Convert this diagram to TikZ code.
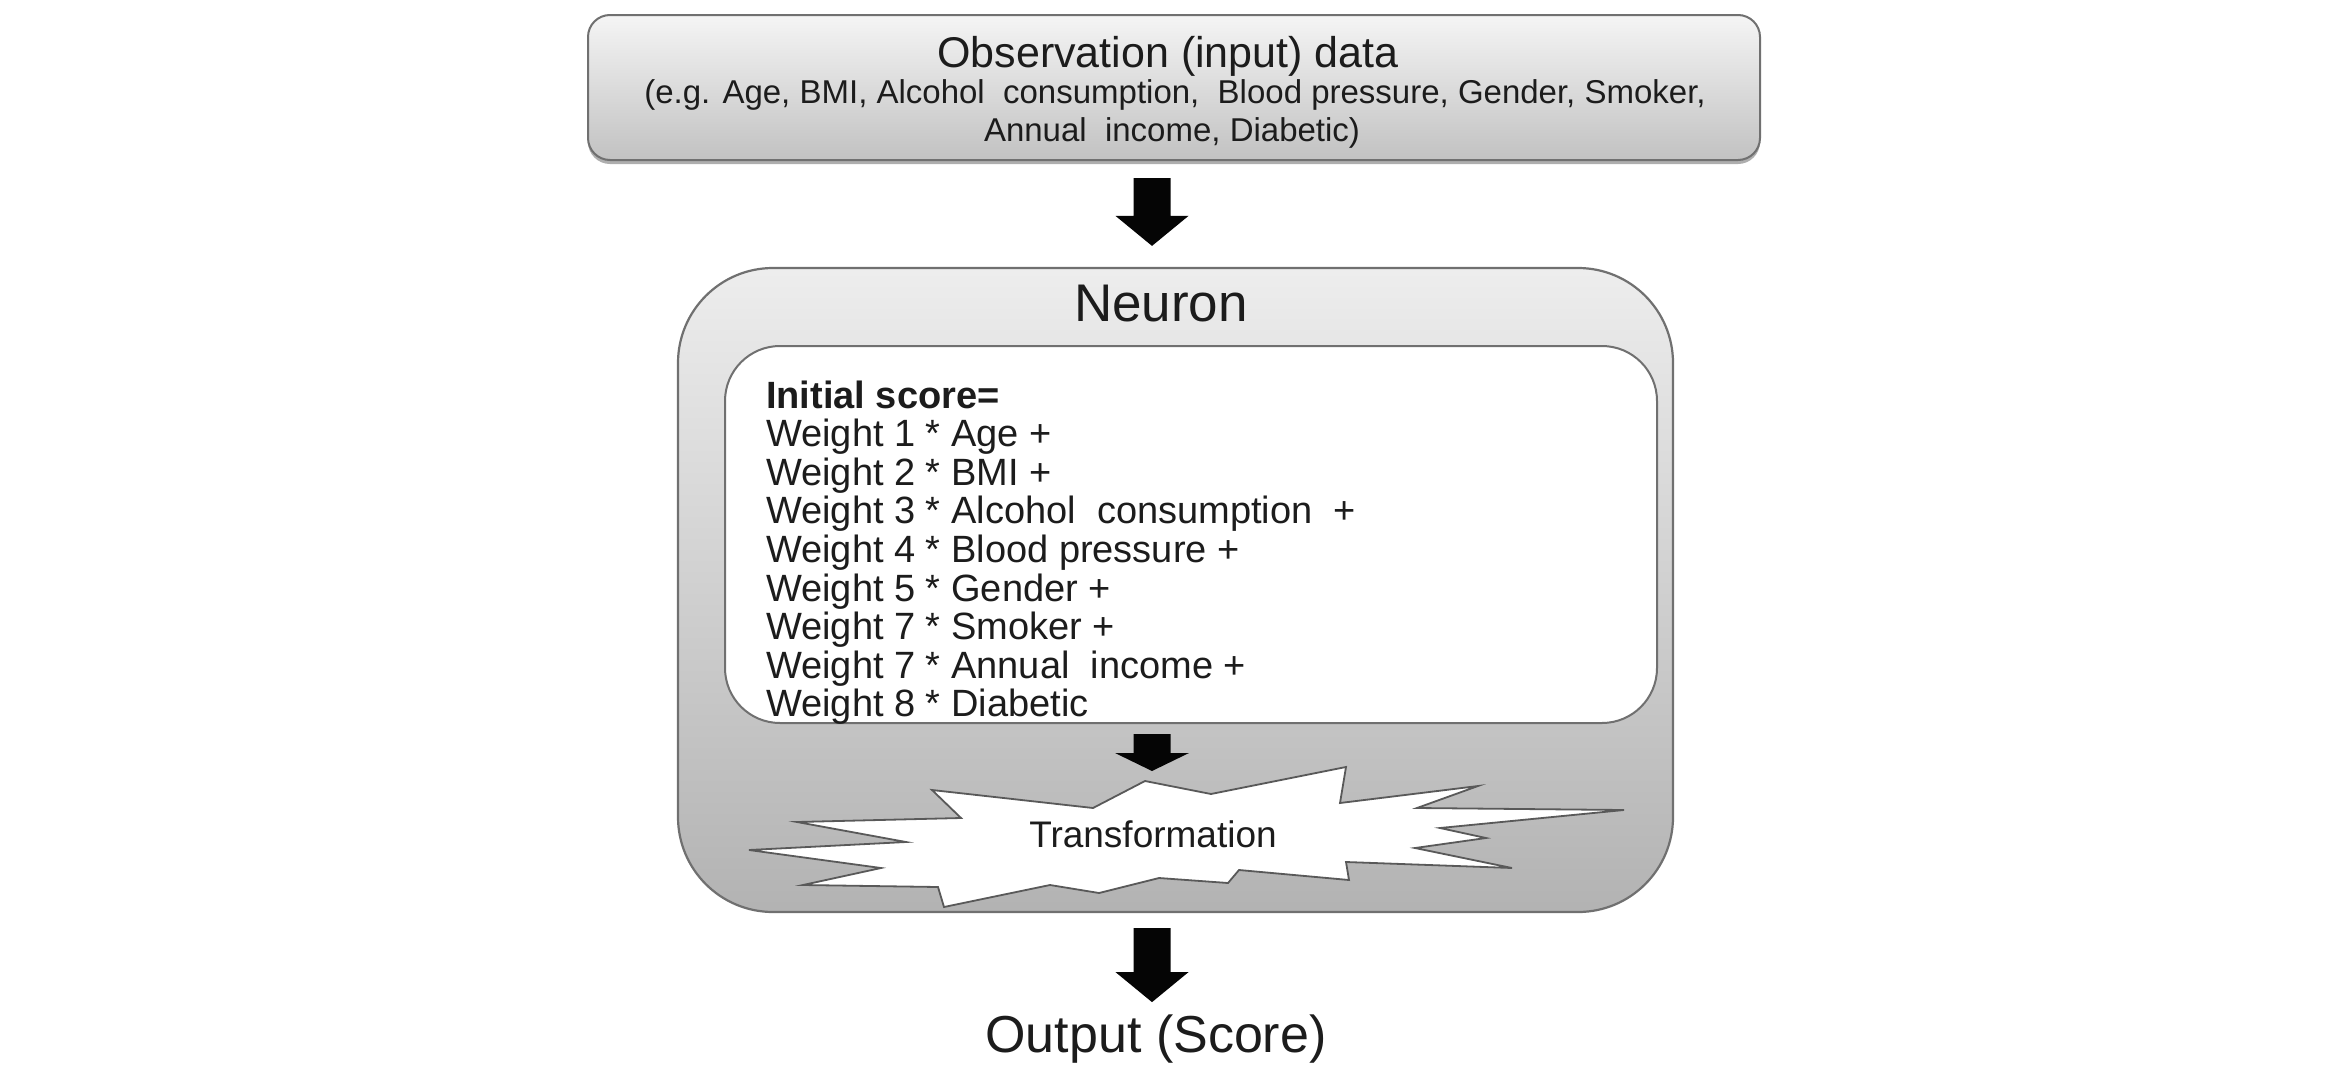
\documentclass[tikz,border=0pt]{standalone}
\usepackage{fontspec}
\setmainfont{Liberation Sans}
\usetikzlibrary{calc,shadows}
\definecolor{txt}{HTML}{1C1C1C}
\definecolor{edge}{HTML}{707070}
\definecolor{arrowcol}{HTML}{050505}
\newcommand\blockarr[5]{%
  \fill[arrowcol] let \p1=(#1), \p2=(#2) in
    (\x1-#3,\y1) -- (\x1+#3,\y1) -- (\x1+#3,\y2+#5) -- (\x1+#4,\y2+#5)
    -- (\x1,\y2) -- (\x1-#4,\y2+#5) -- (\x1-#3,\y2+#5) -- cycle;}
\tikzset{
  obsbox/.style={draw=edge, line width=2pt, rounded corners=22pt,
    top color=white!96!black, bottom color=white!76!black,
    drop shadow={shadow xshift=0pt, shadow yshift=-4pt, opacity=0.45, fill=black!70}},
  neuronbox/.style={draw=edge, line width=2.2pt, rounded corners=95pt,
    top color=white!93!black, bottom color=white!70!black},
  innerbox/.style={draw=edge, line width=2pt, rounded corners=55pt, fill=white},
  starline/.style={draw=black!65, line width=1.8pt, fill=white, line join=miter},
  label/.style={text=txt, inner sep=0pt, anchor=base},
  linetext/.style={text=txt, inner sep=0pt, anchor=base west, font=\fontsize{38}{40}\selectfont},
}
\begin{document}
\begin{tikzpicture}[x=1pt,y=-1pt]
\useasboundingbox (0,0) rectangle (2348,1074);
\fill[white] (0,0) rectangle (2348,1074);
\coordinate (ax) at (1152,0);

% top box
\node[obsbox, minimum width=1172pt, minimum height=145pt] (obs) at (1174,87.5) {};
\node[label, font=\fontsize{43}{46}\selectfont] (obstitle) at (1168,67) {Observation (input) data};
\node[label, font=\fontsize{33}{36}\selectfont] (obssub1) at (1175,103) {(e.g. Age, BMI, Alcohol\ \ consumption,\ \ Blood pressure, Gender, Smoker,};
\node[label, font=\fontsize{33}{36}\selectfont] (obssub2) at (1172,141) {Annual\ \ income, Diabetic)};

% neuron box
\node[neuronbox, minimum width=995pt, minimum height=644pt] (neuron) at (1175.5,590) {};
\node[label, font=\fontsize{53}{56}\selectfont] (neurontitle) at (1161,321) {Neuron};
\node[innerbox, minimum width=932pt, minimum height=377pt] (inner) at (1191,534.5) {};

\node[linetext, font=\fontsize{38}{40}\selectfont\bfseries] (l0) at (766,408) {Initial score=};
\node[linetext] (l1) at (766,446.6) {Weight 1 * Age +};
\node[linetext] (l2) at (766,485.2) {Weight 2 * BMI +};
\node[linetext] (l3) at (766,523.8) {Weight 3 * Alcohol\ \ consumption\ \ +};
\node[linetext] (l4) at (766,562.4) {Weight 4 * Blood pressure +};
\node[linetext] (l5) at (766,601) {Weight 5 * Gender +};
\node[linetext] (l6) at (766,639.6) {Weight 7 * Smoker +};
\node[linetext] (l7) at (766,678.2) {Weight 7 * Annual\ \ income +};
\node[linetext] (l8) at (766,716.8) {Weight 8 * Diabetic};

% transformation star
\coordinate (startop) at (1145,781);
\draw[starline] (932,790) -- (1093,808) -- (startop) -- (1211,794) -- (1346,767)
  -- (1340,803) -- (1478,786) -- (1417,808) -- (1624,810) -- (1440,828)
  -- (1486,838) -- (1415,848) -- (1512,868) -- (1346,862) -- (1349,880)
  -- (1239,870) -- (1228,883) -- (1159,878) -- (1099,893) -- (1050,885)
  -- (944,907) -- (938,887) -- (803,885) -- (881,868) -- (749,850)
  -- (906,842) -- (797,822) -- (961,818) -- cycle;
\node[label, font=\fontsize{37}{40}\selectfont] (transf) at (1153,847) {Transformation};

% output
\node[label, font=\fontsize{52}{56}\selectfont] (out) at (1156,1052) {Output (Score)};

% block arrows
\coordinate (a1s) at ($(obs.south -| ax)+(0,-17pt)$);
\coordinate (a1e) at ($(neuron.north -| ax)+(0,21pt)$);
\blockarr{a1s}{a1e}{18.5pt}{36.5pt}{30pt}
\coordinate (a2s) at ($(inner.south -| ax)+(0,-10pt)$);
\coordinate (a2e) at ($(startop -| ax)+(0,10pt)$);
\blockarr{a2s}{a2e}{18.5pt}{37pt}{18pt}
\coordinate (a3s) at ($(neuron.south -| ax)+(0,-15pt)$);
\coordinate (a3e) at ($(out.north -| ax)+(0,12pt)$);
\blockarr{a3s}{a3e}{18.5pt}{36.5pt}{30pt}
\end{tikzpicture}
\end{document}
